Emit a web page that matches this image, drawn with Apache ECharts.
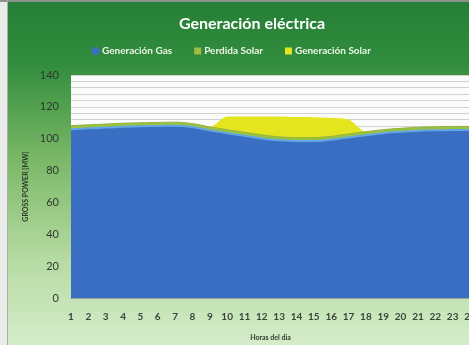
<!DOCTYPE html>
<html>
<head>
<meta charset="utf-8">
<style>
  html, body { margin: 0; padding: 0; background: #e9ece8; }
  #chart { width: 469px; height: 345px; }
</style>
<script src="https://cdn.jsdelivr.net/npm/echarts@6/dist/echarts.min.js"></script>
</head>
<body>
<div id="chart"></div>
<script>
// Hours of the day
const horas = ['1','2','3','4','5','6','7','8','9','10','11','12','13','14','15','16','17','18','19','20','21','22','23','24'];

// Stacked generation per hour [MW]
const generacionGas = [106, 106.5, 107, 107.5, 107.8, 108, 108.2, 107.3, 105.2, 103.5, 101.8, 100.2, 99, 98.5, 98.5, 99.3, 100.8, 102.2, 103.5, 104.3, 105, 105.3, 105.5, 105.5];
const perdidaSolar = [2.2, 2.2, 2.2, 2.2, 2.2, 2.2, 2.2, 2.2, 2.2, 2.2, 2.2, 2.2, 2.2, 2.2, 2.2, 2.2, 2.2, 2.2, 2.2, 2.2, 2.2, 2.2, 2.2, 2.2];
const generacionSolar = [0, 0, 0, 0, 0, 0, 0, 0, 0, 8.3, 10, 11.6, 12.8, 12.9, 12.8, 11.5, 9, 0, 0, 0, 0, 0, 0, 0];

const yTicks = { min: 0, max: 140, interval: 20 };

const chart = echarts.init(document.getElementById('chart'), null, { renderer: 'canvas' });

const font = 'Lato, "Open Sans", sans-serif';

chart.setOption({
  backgroundColor: '#e9ece8',
  animation: false,
  graphic: [
    {
      type: 'rect',
      z: -10,
      shape: { x: 8, y: 2, width: 461, height: 343 },
      style: {
        fill: new echarts.graphic.LinearGradient(0, 0, 0, 1, [
          { offset: 0, color: '#257f37' },
          { offset: 0.18, color: '#318d3d' },
          { offset: 0.45, color: '#78b765' },
          { offset: 0.75, color: '#b6dba2' },
          { offset: 1, color: '#d5ecca' }
        ])
      }
    },
    {
      type: 'rect',
      z: -9,
      shape: { x: 0, y: 0, width: 469, height: 2 },
      style: { fill: '#8a928a' }
    },
    {
      type: 'rect',
      z: -9,
      shape: { x: 7, y: 0, width: 1, height: 345 },
      style: { fill: '#a9b0a9' }
    }
  ],
  title: {
    text: 'Generación eléctrica',
    left: 247,
    top: 11,
    textAlign: 'center',
    textStyle: { color: '#ffffff', fontSize: 16, fontWeight: 'bold', fontFamily: font }
  },
  legend: {
    top: 41,
    left: 87,
    itemWidth: 7,
    itemHeight: 7,
    itemGap: 22,
    icon: 'rect',
    textStyle: { color: '#eef5e6', fontSize: 10, fontWeight: 'bold', fontFamily: font, padding: [0, 0, 0, -2] },
    data: ['Generación Gas', 'Perdida Solar', 'Generación Solar']
  },
  grid: {
    left: 71,
    top: 75,
    width: 399,
    height: 223,
    outerBoundsMode: 'none',
    containLabel: false,
    show: true,
    backgroundColor: '#fbfbfb',
    borderWidth: 0
  },
  xAxis: {
    type: 'category',
    data: horas,
    boundaryGap: false,
    name: 'Horas del dia',
    nameLocation: 'middle',
    nameGap: 36,
    nameTextStyle: { color: '#2c3a2c', fontSize: 7, fontWeight: 'bold', fontFamily: font },
    axisLine: { show: true, lineStyle: { color: '#9aa59a' } },
    axisTick: { show: false },
    axisLabel: { color: '#3a443a', fontSize: 10, fontWeight: 'bold', fontFamily: font, margin: 14, interval: 0, showMaxLabel: true, hideOverlap: false },
    splitLine: { show: false }
  },
  yAxis: {
    type: 'value',
    min: yTicks.min,
    max: yTicks.max,
    interval: yTicks.interval,
    name: 'GROSS POWER [MW]',
    nameLocation: 'middle',
    nameGap: 38,
    nameTextStyle: { color: '#2c3a2c', fontSize: 7, fontWeight: 'bold', fontFamily: font },
    axisLine: { show: false },
    axisTick: { show: false },
    axisLabel: { color: '#2f382f', fontSize: 11, fontFamily: font, margin: 12 },
    splitLine: { show: true, lineStyle: { color: '#d2d2d2', width: 1 } },
    minorTick: { show: false, splitNumber: 5 },
    minorSplitLine: { show: true, lineStyle: { color: '#d2d2d2', width: 1 } }
  },
  series: [
    {
      name: 'Generación Gas',
      type: 'line',
      stack: 'total',
      data: generacionGas,
      smooth: 0.3,
      symbol: 'none',
      itemStyle: { color: '#3a6fc4' },
      lineStyle: { color: '#62a6e6', width: 2 },
      areaStyle: { color: '#3a6ec2', opacity: 1 },
      z: 3
    },
    {
      name: 'Perdida Solar',
      type: 'line',
      stack: 'total',
      data: perdidaSolar,
      smooth: 0.3,
      symbol: 'none',
      itemStyle: { color: '#a2bd3e' },
      lineStyle: { color: '#8fb43a', width: 1 },
      areaStyle: { color: '#9cc040', opacity: 1 },
      z: 2
    },
    {
      name: 'Generación Solar',
      type: 'line',
      stack: 'total',
      data: generacionSolar,
      smooth: 0.3,
      symbol: 'none',
      itemStyle: { color: '#e6e41c' },
      lineStyle: { width: 0 },
      areaStyle: { color: '#e5e51f', opacity: 1 },
      z: 1
    }
  ]
});
</script>
</body>
</html>
